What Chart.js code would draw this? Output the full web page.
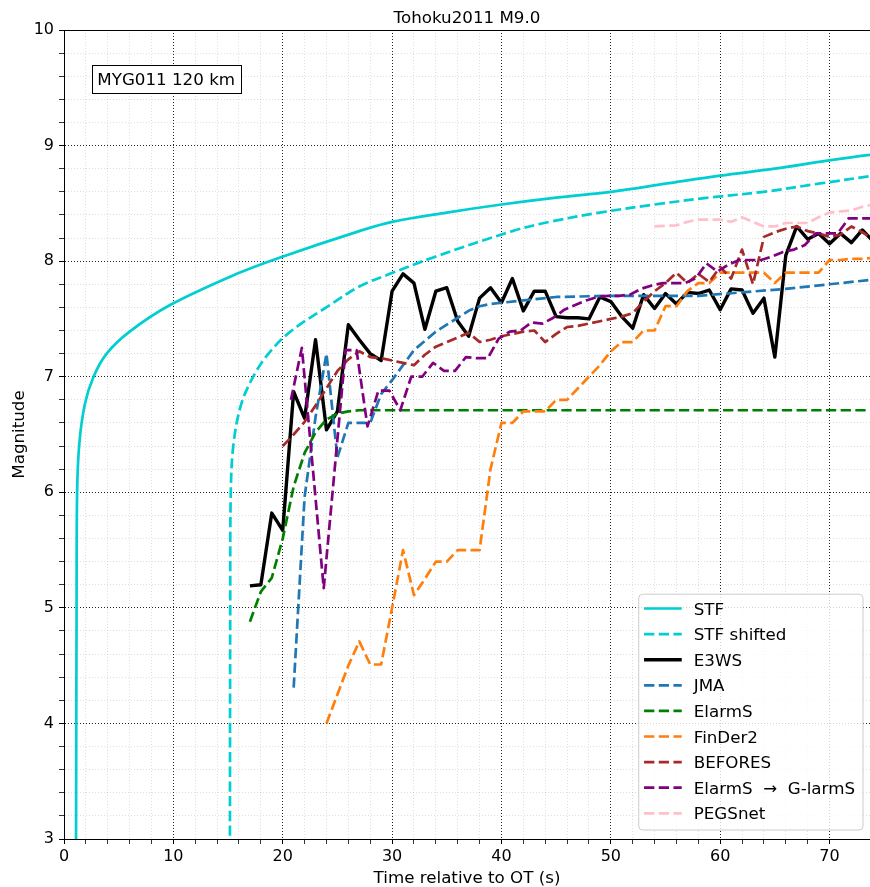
<!DOCTYPE html>
<html>
<head>
<meta charset="utf-8">
<script src="https://cdn.jsdelivr.net/npm/chart.js@4.4.1/dist/chart.umd.min.js"></script>
<style>
html,body{margin:0;padding:0;background:#fff;}
#wrap{width:870px;height:887px;position:relative;}
</style>
</head>
<body>
<div id="wrap"><canvas id="c" width="870" height="887"></canvas></div>
<script>
// ---------------- data ----------------
const chartTitle = 'Tohoku2011 M9.0';
const stationLabel = 'MYG011 120 km';
const xLabel = 'Time relative to OT (s)';
const yLabel = 'Magnitude';

const seriesNames = ['STF', 'STF shifted', 'E3WS', 'JMA', 'ElarmS', 'FinDer2', 'BEFORES', 'ElarmS  \u2192  G-larmS', 'PEGSnet'];

const stfTime = [1.1, 1.15, 1.2, 1.4, 1.9, 2.7, 3.9, 6.0, 9.7, 15.8, 19.7, 27.0, 30, 35, 40, 45, 50, 55, 60, 65, 69.8, 73.7, 76];
const stfMag  = [3.0, 5.0, 6.0, 6.42, 6.76, 7.0, 7.2, 7.39, 7.62, 7.89, 8.03, 8.26, 8.34, 8.42, 8.49, 8.55, 8.60, 8.67, 8.74, 8.80, 8.87, 8.92, 8.94];

const stfShiftTime = [15.17, 15.2, 15.25, 15.5, 16.2, 17.3, 18.7, 20.7, 24.3, 27.0, 29.8, 33.7, 41.0, 44.4, 49, 54, 59, 64, 69, 74];
const stfShiftMag  = [2.9, 5.0, 6.0, 6.42, 6.76, 7.0, 7.2, 7.39, 7.62, 7.78, 7.89, 8.03, 8.26, 8.34, 8.42, 8.49, 8.55, 8.60, 8.67, 8.74];

const e3wsTime = [17,18,19,20,21,22,23,24,25,26,27,28,29,30,31,32,33,34,35,36,37,38,39,40,41,42,43,44,45,46,47,48,49,50,51,52,53,54,55,56,57,58,59,60,61,62,63,64,65,66,67,68,69,70,71,72,73,74];
const e3wsMag  = [5.19,5.20,5.82,5.67,6.87,6.64,7.32,6.54,6.70,7.45,7.32,7.20,7.14,7.74,7.89,7.81,7.41,7.74,7.77,7.48,7.35,7.68,7.77,7.64,7.85,7.57,7.74,7.74,7.52,7.51,7.51,7.50,7.69,7.65,7.52,7.42,7.71,7.59,7.72,7.63,7.73,7.72,7.75,7.58,7.76,7.75,7.55,7.68,7.17,8.05,8.30,8.19,8.24,8.15,8.24,8.16,8.27,8.17];

const jmaTime = [21,22,23,24,25,26,27,28,29,30,31,32,33,34,35,36,37,38,39,40,42,45,50,55,58,62,66,70,74];
const jmaMag  = [4.31,5.96,6.65,7.20,6.30,6.60,6.60,6.60,6.85,6.97,7.10,7.23,7.31,7.39,7.45,7.51,7.57,7.61,7.63,7.64,7.66,7.69,7.70,7.70,7.70,7.73,7.76,7.80,7.84];

const elarmsTime = [17,18,19,20,21,22,23,24,25,26,27,74];
const elarmsMag  = [4.88,5.14,5.26,5.60,6.05,6.34,6.52,6.63,6.68,6.70,6.71,6.71];

const finderTime = [24,25,26,27,28,29,30,31,32,33,34,35,36,37,38,39,40,41,42,43,44,45,46,47,48,49,50,51,52,53,54,55,56,57,58,59,60,61,62,63,64,65,66,67,68,69,70,71,72,73,74];
const finderMag  = [4.0,4.25,4.5,4.71,4.51,4.51,5.0,5.5,5.11,5.25,5.4,5.4,5.5,5.5,5.5,6.2,6.6,6.6,6.7,6.7,6.7,6.8,6.8,6.9,7.0,7.1,7.22,7.3,7.3,7.4,7.4,7.61,7.61,7.74,7.81,7.81,7.9,7.9,7.9,7.9,7.9,7.81,7.9,7.9,7.9,7.9,8.01,8.01,8.02,8.02,8.03];

const beforesTime = [20,21,22,23,24,25,26,27,28,29,30,31,32,33,34,35,36,37,38,39,40,41,42,43,44,45,46,47,48,49,50,51,52,53,54,55,56,57,58,59,60,61,62,63,64,65,66,67,68,69,70,71,72,73,74];
const beforesMag  = [6.40,6.50,6.61,6.75,6.90,7.05,7.15,7.22,7.17,7.16,7.14,7.12,7.10,7.19,7.26,7.30,7.34,7.38,7.30,7.32,7.35,7.37,7.39,7.40,7.30,7.37,7.43,7.44,7.46,7.48,7.50,7.52,7.55,7.65,7.74,7.81,7.90,7.81,7.89,7.82,7.95,7.85,8.10,7.80,8.21,8.25,8.28,8.30,8.26,8.24,8.21,8.23,8.30,8.25,8.19];

const glarmsTime = [20.75,21.75,22.75,23.75,24.75,25.75,26.75,27.75,28.75,29.75,30.75,31.75,32.75,33.75,34.75,35.75,36.75,37.75,38.75,39.75,40.75,41.75,42.75,43.75,44.75,45.75,46.75,47.75,48.75,49.75,50.75,51.75,52.75,53.75,54.75,55.75,56.75,57.75,58.75,59.75,60.75,61.75,62.75,63.75,64.75,65.75,66.75,67.75,68.75,69.75,70.75,71.75,72.75,73.75];
const glarmsMag  = [6.80,7.25,6.21,5.17,6.20,7.23,7.23,6.57,6.88,6.88,6.71,7.00,7.00,7.12,7.05,7.05,7.17,7.16,7.16,7.33,7.39,7.40,7.47,7.46,7.51,7.58,7.62,7.66,7.69,7.70,7.70,7.71,7.76,7.79,7.81,7.81,7.81,7.85,7.98,7.91,7.97,8.01,8.01,8.01,8.04,8.08,8.10,8.14,8.24,8.24,8.24,8.37,8.37,8.37];

const pegsTime = [54,55,56,57,58,59,60,61,62,63,64,65,66,67,68,69,70,71,72,73,74];
const pegsMag  = [8.30,8.305,8.31,8.34,8.36,8.36,8.36,8.34,8.38,8.34,8.30,8.30,8.33,8.33,8.33,8.38,8.42,8.43,8.44,8.47,8.49];

const xTickStep = 2, xMajorStep = 10;
const yTickStep = 0.2, yMajorStep = 1;

// ---------------- styles ----------------
const FONT = "'DejaVu Sans', 'Liberation Sans', sans-serif";
const DASH = [10.3, 4.4];
const styles = [
  {color: '#00ced1', width: 2.7, dash: [],   tension: 0.35},
  {color: '#00ced1', width: 2.7, dash: DASH, tension: 0.35},
  {color: '#000000', width: 3.4, dash: [],   tension: 0},
  {color: '#1f77b4', width: 2.7, dash: DASH, tension: 0},
  {color: '#008000', width: 2.7, dash: DASH, tension: 0},
  {color: '#ff7f0e', width: 2.7, dash: DASH, tension: 0},
  {color: '#a52a2a', width: 2.7, dash: DASH, tension: 0},
  {color: '#800080', width: 2.7, dash: DASH, tension: 0},
  {color: '#ffc0cb', width: 2.7, dash: DASH, tension: 0}
];
const seriesData = [
  [stfTime, stfMag], [stfShiftTime, stfShiftMag], [e3wsTime, e3wsMag], [jmaTime, jmaMag],
  [elarmsTime, elarmsMag], [finderTime, finderMag], [beforesTime, beforesMag],
  [glarmsTime, glarmsMag], [pegsTime, pegsMag]
];

function pts(t, m) { return t.map((x, i) => ({x: x, y: m[i]})); }

const datasets = seriesData.map((s, i) => ({
  label: seriesNames[i],
  data: pts(s[0], s[1]),
  borderColor: styles[i].color,
  backgroundColor: styles[i].color,
  borderWidth: styles[i].width,
  borderDash: styles[i].dash,
  borderCapStyle: 'butt',
  borderJoinStyle: 'round',
  pointRadius: 0,
  pointHoverRadius: 0,
  tension: styles[i].tension,
  fill: false,
  order: seriesData.length - i
}));

function near(v, step) { const r = v / step; return Math.abs(r - Math.round(r)) < 1e-6; }
function gridCol(v, major, minor) {
  if (near(v, major)) return 'rgba(0,0,0,0.85)';
  if (near(v, minor)) return 'rgba(0,0,0,0.16)';
  return 'rgba(0,0,0,0)';
}
function tickCol(v, major, minor) {
  return (near(v, major) || near(v, minor)) ? '#000' : 'rgba(0,0,0,0)';
}

// ---------------- decorations: spine, title, station box, legend ----------------
const decor = {
  id: 'decor',
  afterDraw(chart) {
    const {ctx, chartArea: a} = chart;
    ctx.save();
    ctx.setLineDash([]);
    ctx.strokeStyle = '#000';
    ctx.lineWidth = 1;
    ctx.beginPath();
    ctx.moveTo(a.left, a.top + 0.5);
    ctx.lineTo(a.right, a.top + 0.5);
    ctx.stroke();

    ctx.fillStyle = '#000';
    ctx.font = '16.7px ' + FONT;
    ctx.textAlign = 'center';
    ctx.textBaseline = 'alphabetic';
    ctx.fillText(chartTitle, (a.left + a.right) / 2, a.top - 7);

    ctx.font = '16.7px ' + FONT;
    const tw = ctx.measureText(stationLabel).width;
    const bx = a.left + 27.7, by = a.top + 35, bw = tw + 11.2, bh = 28.3;
    ctx.fillStyle = '#fff';
    ctx.fillRect(bx, by, bw, bh);
    ctx.strokeStyle = '#000';
    ctx.lineWidth = 1;
    ctx.strokeRect(Math.round(bx) + 0.5, Math.round(by) + 0.5, Math.round(bw), Math.round(bh));
    ctx.fillStyle = '#000';
    ctx.textAlign = 'center';
    ctx.fillText(stationLabel, bx + bw / 2, by + bh / 2 + 6.1);

    ctx.font = '16.7px ' + FONT;
    const dsets = chart.data.datasets;
    let maxW = 0;
    dsets.forEach(d => { maxW = Math.max(maxW, ctx.measureText(d.label).width); });
    const rowH = 25.6;
    const lh = 14.3 + (dsets.length - 1) * rowH + 16.7;
    const lRight = a.right - 7;
    const lBottom = a.bottom - 9;
    const lLeft = lRight - (55 + maxW + 8);
    const lTop = lBottom - lh;
    const r = 4;
    ctx.beginPath();
    ctx.moveTo(lLeft + r, lTop);
    ctx.lineTo(lRight - r, lTop);
    ctx.quadraticCurveTo(lRight, lTop, lRight, lTop + r);
    ctx.lineTo(lRight, lBottom - r);
    ctx.quadraticCurveTo(lRight, lBottom, lRight - r, lBottom);
    ctx.lineTo(lLeft + r, lBottom);
    ctx.quadraticCurveTo(lLeft, lBottom, lLeft, lBottom - r);
    ctx.lineTo(lLeft, lTop + r);
    ctx.quadraticCurveTo(lLeft, lTop, lLeft + r, lTop);
    ctx.closePath();
    ctx.fillStyle = 'rgba(255,255,255,0.8)';
    ctx.fill();
    ctx.strokeStyle = '#cccccc';
    ctx.lineWidth = 1;
    ctx.stroke();
    dsets.forEach((d, i) => {
      const y = lTop + 14.3 + i * rowH;
      ctx.save();
      ctx.strokeStyle = d.borderColor;
      ctx.lineWidth = d.borderWidth;
      ctx.setLineDash(d.borderDash || []);
      ctx.lineCap = 'butt';
      ctx.beginPath();
      ctx.moveTo(lLeft + 5.3, y);
      ctx.lineTo(lLeft + 43, y);
      ctx.stroke();
      ctx.restore();
      ctx.fillStyle = '#000';
      ctx.textAlign = 'left';
      ctx.textBaseline = 'alphabetic';
      ctx.fillText(d.label, lLeft + 55, y + 6.1);
    });
    ctx.restore();
  }
};

new Chart(document.getElementById('c'), {
  type: 'line',
  data: {datasets: datasets},
  plugins: [decor],
  options: {
    responsive: false,
    animation: false,
    devicePixelRatio: 1,
    events: [],
    layout: {padding: {top: 30, left: 0, right: 0, bottom: 0}},
    plugins: {legend: {display: false}, tooltip: {enabled: false}, title: {display: false}},
    scales: {
      x: {
        type: 'linear', min: 0, max: 73.7,
        afterFit(s) { s.height = 48; s.paddingRight = 0; s.paddingLeft = 0; },
        ticks: {
          stepSize: xTickStep, autoSkip: false, maxRotation: 0, minRotation: 0,
          color: '#000', padding: 3, font: {family: FONT, size: 16},
          callback: v => near(v, xMajorStep) ? String(Math.round(v)) : ''
        },
        grid: {
          color: c => gridCol(c.tick.value, xMajorStep, xTickStep),
          lineWidth: c => near(c.tick.value, xMajorStep) ? 1 : 0.8,
          tickColor: c => tickCol(c.tick.value, xMajorStep, xTickStep),
          tickWidth: c => near(c.tick.value, xMajorStep) ? 1 : 0.8,
          tickLength: 5
        },
        border: {display: true, color: '#000', width: 1, dash: [1, 2]},
        title: {display: true, text: xLabel, color: '#000', font: {family: FONT, size: 16.7}, padding: {top: 0, bottom: -2}}
      },
      y: {
        type: 'linear', min: 3, max: 10,
        afterFit(s) { s.width = 64; },
        ticks: {
          stepSize: yTickStep, autoSkip: false,
          color: '#000', padding: 5, font: {family: FONT, size: 16},
          callback: v => near(v, yMajorStep) ? String(Math.round(v)) : ''
        },
        grid: {
          color: c => gridCol(c.tick.value, yMajorStep, yTickStep),
          lineWidth: c => near(c.tick.value, yMajorStep) ? 1 : 0.8,
          tickColor: c => tickCol(c.tick.value, yMajorStep, yTickStep),
          tickWidth: c => near(c.tick.value, yMajorStep) ? 1 : 0.8,
          tickLength: 5
        },
        border: {display: true, color: '#000', width: 1, dash: [1, 2]},
        title: {display: true, text: yLabel, color: '#000', font: {family: FONT, size: 16.7}, padding: {top: 10, bottom: 0}}
      }
    }
  }
});
</script>
</body>
</html>
